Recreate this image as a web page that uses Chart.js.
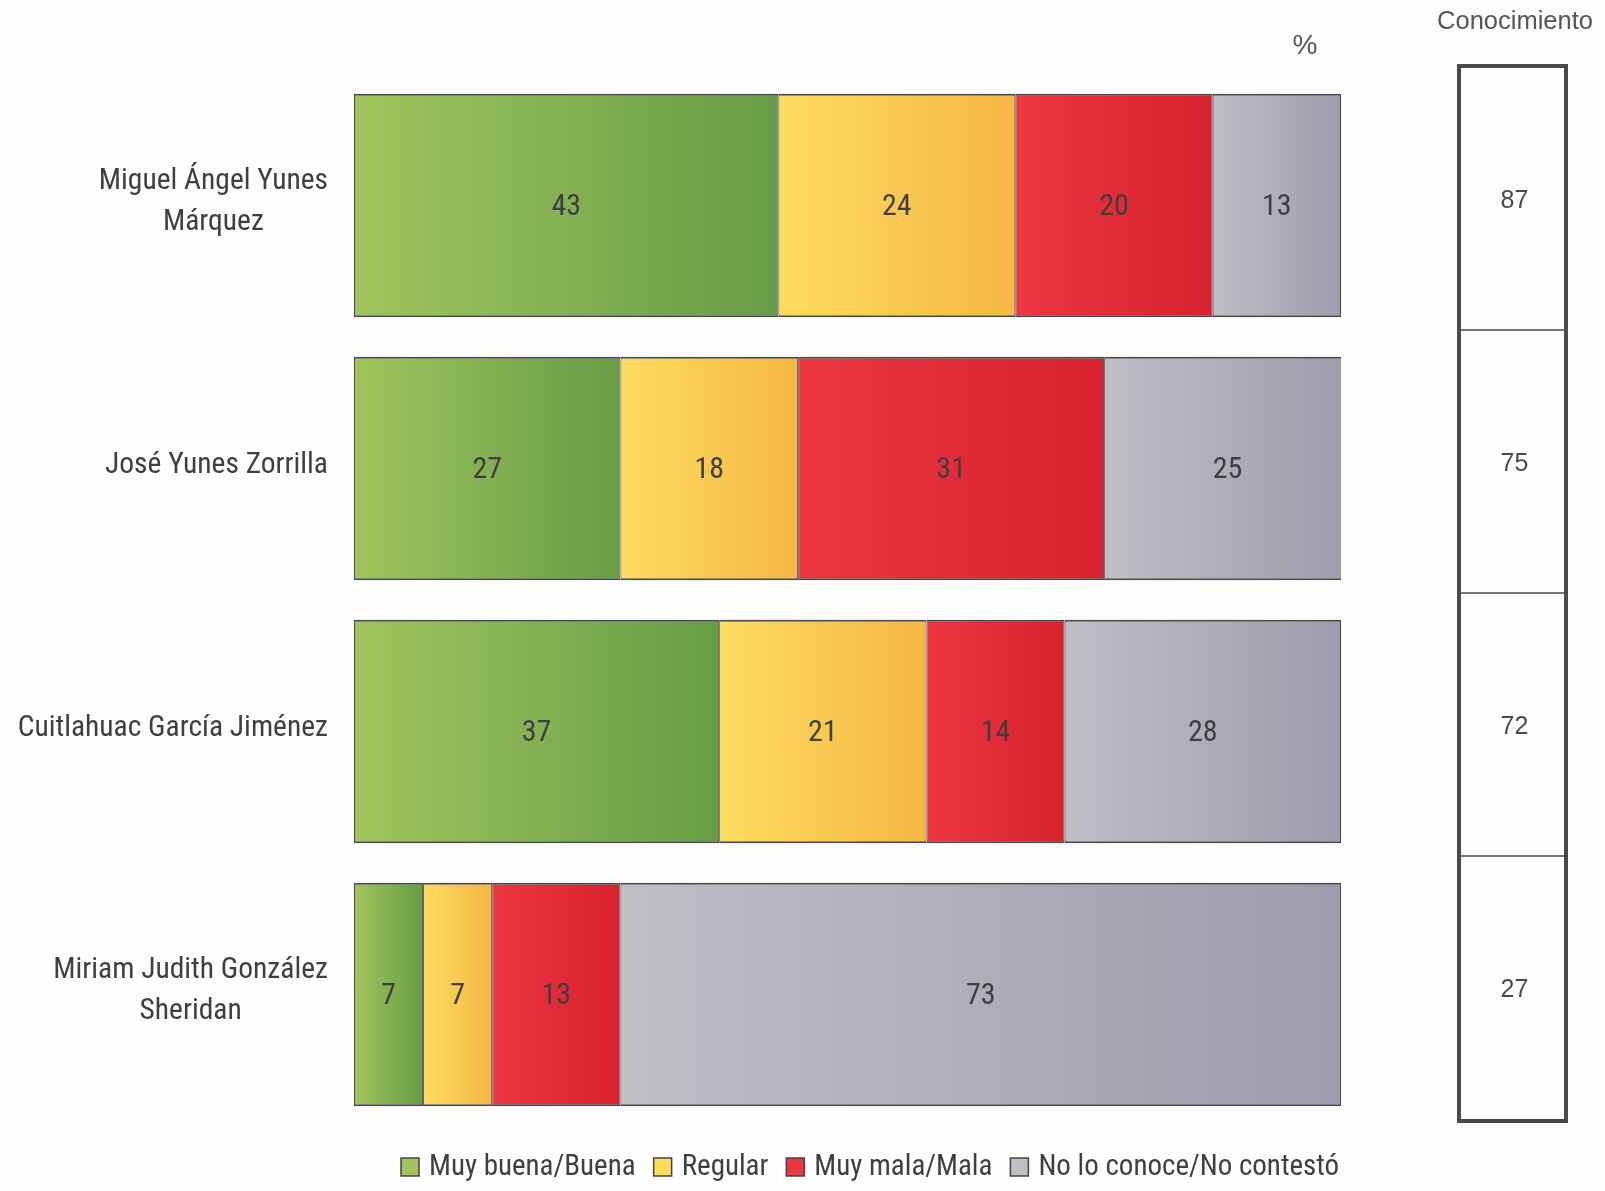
<!DOCTYPE html>
<html lang="es">
<head>
<meta charset="utf-8">
<title>Opinión y conocimiento de candidatos</title>
<script src="https://cdn.jsdelivr.net/npm/chart.js@4.4.1/dist/chart.umd.min.js"></script>
<style>
    html, body { margin: 0; padding: 0; background: #fdfdfd; }
    #wrap { position: relative; width: 1605px; height: 1191px; }
</style>
</head>
<body>
<div id="wrap"><canvas id="grafica" width="1605" height="1191"></canvas></div>
<script>
// Datos
var candidatos = [
    ['Miguel Ángel Yunes', 'Márquez'],
    ['José Yunes Zorrilla'],
    ['Cuitlahuac García Jiménez'],
    ['Miriam Judith González', 'Sheridan']
];
var muyBuena = [43, 27, 37, 7];
var regular = [24, 18, 21, 7];
var muyMala = [20, 31, 14, 13];
var noConoce = [13, 25, 28, 73];
var conocimiento = [87, 75, 72, 27];
var series = ['Muy buena/Buena', 'Regular', 'Muy mala/Mala', 'No lo conoce/No contestó'];

(function () {
    'use strict';

    var NARROW = "'Liberation Sans Narrow', 'Arial Narrow', 'Roboto Condensed', Roboto, sans-serif";
    var REGULAR = "'Liberation Sans', Arial, sans-serif";
    var TEXT = '#3f3f3f';
    var BORDE = '#4a4a4a';

    // degradados izquierda -> derecha de cada serie
    var tonos = [
        ['#a0c55e', '#679c46'],
        ['#fddc60', '#f4b743'],
        ['#ea3740', '#d9222f'],
        ['#bfbfc5', '#9d9cac']
    ];

    var valores = [muyBuena, regular, muyMala, noConoce];

    function degradado(idx) {
        return function (ctx) {
            var chart = ctx.chart;
            var xs = chart.scales.x;
            if (!chart.chartArea || !xs || ctx.type !== 'data') {
                return tonos[idx][0];
            }
            var i = ctx.dataIndex;
            var ini = 0;
            for (var k = 0; k < idx; k++) {
                ini += valores[k][i];
            }
            var x0 = xs.getPixelForValue(ini);
            var x1 = xs.getPixelForValue(ini + valores[idx][i]);
            if (!isFinite(x0) || !isFinite(x1) || x1 <= x0) {
                return tonos[idx][0];
            }
            var g = chart.ctx.createLinearGradient(x0, 0, x1, 0);
            g.addColorStop(0, tonos[idx][0]);
            g.addColorStop(1, tonos[idx][1]);
            return g;
        };
    }

    var decorado = {
        id: 'decorado',
        afterDraw: function (chart) {
            var c = chart.ctx;
            var ys = chart.scales.y;
            var banda = ys.getPixelForValue(1) - ys.getPixelForValue(0);

            c.save();

            // valores dentro de cada segmento
            c.font = '30px ' + NARROW;
            c.fillStyle = TEXT;
            c.textAlign = 'center';
            c.textBaseline = 'middle';
            chart.data.datasets.forEach(function (ds, di) {
                var meta = chart.getDatasetMeta(di);
                meta.data.forEach(function (el, i) {
                    c.fillText(String(ds.data[i]), (el.x + el.base) / 2, el.y + 2);
                });
            });

            // nombres de candidatos
            c.font = '29.5px ' + NARROW;
            candidatos.forEach(function (lineas, i) {
                var cy = ys.getPixelForValue(i);
                var ancho = 0;
                lineas.forEach(function (l) { ancho = Math.max(ancho, c.measureText(l).width); });
                var cx = 328 - ancho / 2;
                var alto = 41;
                lineas.forEach(function (l, j) {
                    c.fillText(l, cx, cy + (j - (lineas.length - 1) / 2) * alto - 3);
                });
            });

            // símbolo de porcentaje
            c.font = '28px ' + REGULAR;
            c.fillStyle = '#555';
            c.fillText('%', 1305, 46);

            // tabla de conocimiento
            var tx0 = 1459, tx1 = 1566;
            var arriba = ys.getPixelForValue(0) - banda / 2 - 8;
            var abajo = ys.getPixelForValue(conocimiento.length - 1) + banda / 2 - 5;
            c.font = '25.5px ' + REGULAR;
            c.fillStyle = '#555';
            c.fillText('Conocimiento', 1515, 22);

            c.strokeStyle = BORDE;
            c.lineWidth = 1.5;
            for (var r = 1; r < conocimiento.length; r++) {
                var yl = ys.getPixelForValue(r) - banda / 2 - 7;
                c.beginPath();
                c.moveTo(tx0, yl);
                c.lineTo(tx1, yl);
                c.stroke();
            }
            c.lineWidth = 4;
            c.strokeRect(tx0, arriba, tx1 - tx0, abajo - arriba);

            c.font = '25px ' + REGULAR;
            c.fillStyle = '#4a4a4a';
            conocimiento.forEach(function (v, i) {
                c.fillText(String(v), (tx0 + tx1) / 2 + 2, ys.getPixelForValue(i) - 4);
            });

            // leyenda
            c.font = '29px ' + NARROW;
            c.textAlign = 'left';
            var lx = 401;
            var ly = 1167;
            series.forEach(function (nombre, k) {
                var lado = 18;
                c.fillStyle = tonos[k][0];
                c.fillRect(lx, ly - lado / 2, lado, lado);
                c.strokeStyle = '#444';
                c.lineWidth = 1.5;
                c.strokeRect(lx, ly - lado / 2, lado, lado);
                c.fillStyle = TEXT;
                c.fillText(nombre, lx + lado + 10, ly + 1);
                lx += lado + 10 + c.measureText(nombre).width + 18;
            });

            c.restore();
        }
    };

    var datasets = series.map(function (nombre, k) {
        return {
            label: nombre,
            data: valores[k],
            backgroundColor: degradado(k),
            borderColor: BORDE,
            borderWidth: { top: 2, bottom: 2, left: 1, right: 1 },
            borderSkipped: false,
            barPercentage: 0.85,
            categoryPercentage: 1
        };
    });

    new Chart(document.getElementById('grafica'), {
        type: 'bar',
        data: {
            labels: candidatos,
            datasets: datasets
        },
        options: {
            responsive: false,
            animation: false,
            indexAxis: 'y',
            layout: {
                padding: { left: 354, right: 264, top: 74, bottom: 65 }
            },
            scales: {
                x: { stacked: true, min: 0, max: 100, display: false },
                y: { stacked: true, display: false }
            },
            plugins: {
                legend: { display: false },
                tooltip: { enabled: false }
            }
        },
        plugins: [decorado]
    });
})();
</script>
</body>
</html>
